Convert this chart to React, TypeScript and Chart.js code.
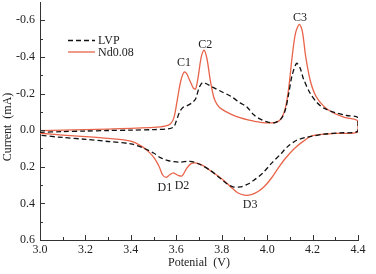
import React, { useEffect, useRef } from 'react';
import { Chart, registerables } from 'chart.js';

Chart.register(...registerables);

// ---- data ----
const seriesNames = ['LVP', 'Nd0.08'];

// LVP: anodic branch (3.0 -> 4.4) followed by cathodic branch (4.4 -> 3.0)
const lvpV = [
  3.0, 3.1, 3.2, 3.3, 3.4, 3.5, 3.57, 3.59, 3.6, 3.615, 3.63, 3.65, 3.67, 3.685, 3.7, 3.715, 3.73,
  3.76, 3.8, 3.84, 3.88, 3.91, 3.94, 3.97, 4.0, 4.03, 4.06, 4.08, 4.095, 4.11, 4.13, 4.145, 4.16,
  4.19, 4.22, 4.25, 4.3, 4.35, 4.4,
  4.4, 4.32, 4.25, 4.17, 4.13, 4.09, 4.06, 4.02, 3.98, 3.94, 3.91, 3.88, 3.85, 3.82, 3.79, 3.75,
  3.7, 3.66, 3.62, 3.59, 3.56, 3.53, 3.5, 3.45, 3.4, 3.3, 3.2, 3.1, 3.0,
];
const lvpI = [
  0.012, 0.008, 0.005, 0.002, 0.0, -0.003, -0.008, -0.02, -0.05, -0.1, -0.125, -0.135, -0.15, -0.17, -0.23, -0.26, -0.255,
  -0.235, -0.21, -0.185, -0.15, -0.128, -0.085, -0.06, -0.045, -0.04, -0.06, -0.11, -0.2, -0.3, -0.365, -0.34, -0.28,
  -0.2, -0.15, -0.12, -0.095, -0.08, -0.068,
  0.005, 0.015, 0.022, 0.04, 0.055, 0.09, 0.13, 0.18, 0.235, 0.275, 0.298, 0.31, 0.31, 0.29, 0.26, 0.22,
  0.185, 0.17, 0.175, 0.172, 0.165, 0.15, 0.125, 0.095, 0.075, 0.062, 0.05, 0.04, 0.028,
];

// Nd0.08: anodic branch followed by cathodic branch
const ndV = [
  3.0, 3.1, 3.2, 3.3, 3.4, 3.5, 3.55, 3.575, 3.59, 3.605, 3.62, 3.635, 3.645, 3.66, 3.675, 3.685, 3.695,
  3.71, 3.722, 3.735, 3.75, 3.765, 3.78, 3.8, 3.84, 3.88, 3.92, 3.97, 4.02, 4.045, 4.065, 4.08, 4.095,
  4.11, 4.125, 4.142, 4.155, 4.17, 4.19, 4.215, 4.25, 4.29, 4.34, 4.4,
  4.4, 4.3, 4.2, 4.16, 4.12, 4.08, 4.05, 4.02, 3.99, 3.96, 3.93, 3.9, 3.87, 3.84, 3.8, 3.76, 3.72,
  3.69, 3.665, 3.645, 3.625, 3.605, 3.587, 3.57, 3.555, 3.54, 3.525, 3.505, 3.48, 3.45, 3.4, 3.3, 3.2,
  3.1, 3.0,
];
const ndI = [
  0.003, 0.0, -0.003, -0.006, -0.01, -0.015, -0.022, -0.035, -0.07, -0.17, -0.27, -0.318, -0.31, -0.27, -0.23, -0.225, -0.28,
  -0.4, -0.437, -0.39, -0.27, -0.18, -0.14, -0.115, -0.088, -0.068, -0.055, -0.043, -0.04, -0.045, -0.07, -0.12, -0.23,
  -0.4, -0.53, -0.578, -0.54, -0.4, -0.27, -0.185, -0.13, -0.095, -0.07, -0.05,
  0.01, 0.018, 0.03, 0.06, 0.1, 0.155, 0.205, 0.26, 0.305, 0.335, 0.352, 0.355, 0.342, 0.31, 0.265, 0.23, 0.195,
  0.18, 0.183, 0.21, 0.25, 0.245, 0.233, 0.245, 0.258, 0.245, 0.2, 0.155, 0.12, 0.09, 0.06, 0.045, 0.035,
  0.027, 0.017,
];

const xTicks = [3.0, 3.2, 3.4, 3.6, 3.8, 4.0, 4.2, 4.4];
const yTicks = [-0.6, -0.4, -0.2, 0.0, 0.2, 0.4, 0.6];

const peakLabels = ['C1', 'C2', 'C3', 'D1', 'D2', 'D3'];
const peakV = [3.634, 3.727, 4.145, 3.55, 3.625, 3.925];
const peakI = [-0.37, -0.468, -0.616, 0.313, 0.302, 0.406];

const xTitle = 'Potenial  (V)';
const yTitle = 'Current  (mA)';

// ---- styles ----
const FONT = "'Liberation Serif', 'Times New Roman', serif";
const TEXT = '#222';
const AXIS = '#333';
const RED = '#E8644A';
const BLACK = '#111';

const decorPlugin = {
  id: 'decor',
  afterDraw(chart: any) {
    const { ctx, chartArea } = chart;
    const xs = chart.scales.x;
    const ys = chart.scales.y;
    ctx.save();
    // inward ticks (major + minor)
    ctx.strokeStyle = AXIS;
    ctx.lineWidth = 1;
    ctx.beginPath();
    for (let i = 0; i < xTicks.length; i++) {
      const px = Math.round(xs.getPixelForValue(xTicks[i])) + 0.5;
      ctx.moveTo(px, chartArea.bottom);
      ctx.lineTo(px, chartArea.bottom - 5);
      if (i < xTicks.length - 1) {
        const pm = Math.round(xs.getPixelForValue((xTicks[i] + xTicks[i + 1]) / 2)) + 0.5;
        ctx.moveTo(pm, chartArea.bottom);
        ctx.lineTo(pm, chartArea.bottom - 3);
      }
    }
    for (let i = 0; i < yTicks.length; i++) {
      const py = Math.round(ys.getPixelForValue(yTicks[i])) + 0.5;
      ctx.moveTo(chartArea.left, py);
      ctx.lineTo(chartArea.left + 5, py);
      if (i < yTicks.length - 1) {
        const pm = Math.round(ys.getPixelForValue((yTicks[i] + yTicks[i + 1]) / 2)) + 0.5;
        ctx.moveTo(chartArea.left, pm);
        ctx.lineTo(chartArea.left + 3, pm);
      }
    }
    ctx.stroke();

    // legend
    ctx.lineWidth = 1.3;
    ctx.strokeStyle = BLACK;
    ctx.setLineDash([5, 3]);
    ctx.beginPath();
    ctx.moveTo(68, 40.5);
    ctx.lineTo(95, 40.5);
    ctx.stroke();
    ctx.setLineDash([]);
    ctx.strokeStyle = RED;
    ctx.beginPath();
    ctx.moveTo(68, 52);
    ctx.lineTo(95, 52);
    ctx.stroke();
    ctx.fillStyle = TEXT;
    ctx.font = `12px ${FONT}`;
    ctx.textAlign = 'left';
    ctx.textBaseline = 'middle';
    ctx.fillText(seriesNames[0], 98, 41);
    ctx.fillText(seriesNames[1], 98, 53);

    // peak labels
    ctx.textAlign = 'center';
    for (let i = 0; i < peakLabels.length; i++) {
      ctx.fillText(peakLabels[i], xs.getPixelForValue(peakV[i]), ys.getPixelForValue(peakI[i]));
    }

    // axis titles
    ctx.fillText(xTitle, 199, 263);
    ctx.translate(8, 127);
    ctx.rotate(-Math.PI / 2);
    ctx.fillText(yTitle, 0, 0);
    ctx.restore();
  },
};

export default function App() {
  const ref = useRef<HTMLCanvasElement | null>(null);
  useEffect(() => {
    document.body.style.margin = '0';
    if (!ref.current) return;
    const chart = new Chart(ref.current, {
      type: 'line',
      data: {
        datasets: [
          {
            label: seriesNames[0],
            data: lvpV.map((v, i) => ({ x: v, y: lvpI[i] })),
            borderColor: BLACK,
            borderWidth: 1.3,
            borderDash: [5, 3],
            pointRadius: 0,
            tension: 0.3,
            fill: false,
          },
          {
            label: seriesNames[1],
            data: ndV.map((v, i) => ({ x: v, y: ndI[i] })),
            borderColor: RED,
            borderWidth: 1.3,
            pointRadius: 0,
            tension: 0.3,
            fill: false,
          },
        ],
      },
      options: {
        responsive: false,
        animation: false,
        layout: { padding: { top: 2, right: 18, left: 0, bottom: 0 } },
        plugins: { legend: { display: false }, tooltip: { enabled: false } },
        scales: {
          x: {
            type: 'linear',
            min: 3.0,
            max: 4.4,
            afterBuildTicks: (s: any) => {
              s.ticks = xTicks.map((v) => ({ value: v }));
            },
            afterFit: (s: any) => {
              s.height = 34;
              s.paddingLeft = 0;
              s.paddingRight = 0;
            },
            ticks: {
              callback: (v: any) => Number(v).toFixed(1),
              font: { family: FONT, size: 12 },
              color: TEXT,
              padding: 3,
              maxRotation: 0,
              autoSkip: false,
            },
            grid: { display: false, drawTicks: false },
            border: { display: true, color: AXIS, width: 1 },
          },
          y: {
            type: 'linear',
            min: -0.7,
            max: 0.6,
            reverse: true,
            afterBuildTicks: (s: any) => {
              s.ticks = yTicks.map((v) => ({ value: v }));
            },
            afterFit: (s: any) => {
              s.width = 40;
              s.paddingTop = 0;
              s.paddingBottom = 0;
            },
            ticks: {
              callback: (v: any) => Number(v).toFixed(1),
              font: { family: FONT, size: 12 },
              color: TEXT,
              padding: 5,
              autoSkip: false,
            },
            grid: { display: false, drawTicks: false },
            border: { display: true, color: AXIS, width: 1 },
          },
        },
      },
      plugins: [decorPlugin],
    });
    return () => chart.destroy();
  }, []);
  return (
    <div style={{ width: 376, height: 274, background: '#fff' }}>
      <canvas ref={ref} width={376} height={274} style={{ display: 'block' }} />
    </div>
  );
}
